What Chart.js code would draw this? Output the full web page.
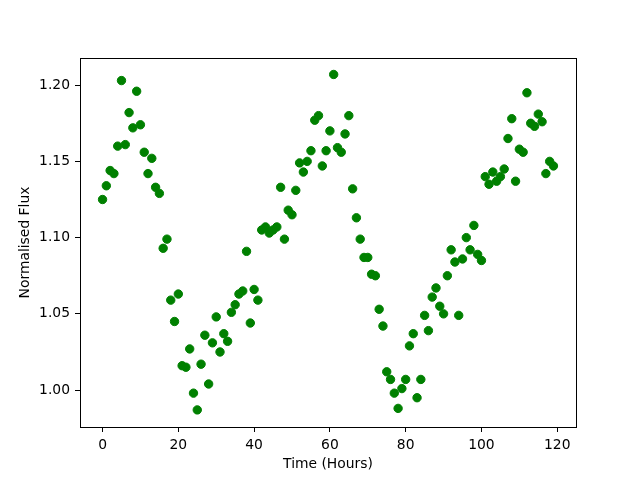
<!DOCTYPE html>
<html>
<head>
<meta charset="utf-8">
<script src="https://cdn.jsdelivr.net/npm/chart.js@4.4.0/dist/chart.umd.min.js"></script>
<style>
  html, body { margin: 0; padding: 0; background: #fff; }
  #wrap { width: 640px; height: 480px; }
</style>
</head>
<body>
<div id="wrap"><canvas id="c" width="640" height="480"></canvas></div>
<script>
const timeHours = [
  0, 1, 2, 3, 4, 5, 6, 7, 8, 9,
  10, 11, 12, 13, 14, 15, 16, 17, 18, 19,
  20, 21, 22, 23, 24, 25, 26, 27, 28, 29,
  30, 31, 32, 33, 34, 35, 36, 37, 38, 39,
  40, 41, 42, 43, 44, 45, 46, 47, 48, 49,
  50, 51, 52, 53, 54, 55, 56, 57, 58, 59,
  60, 61, 62, 63, 64, 65, 66, 67, 68, 69,
  70, 71, 72, 73, 74, 75, 76, 77, 78, 79,
  80, 81, 82, 83, 84, 85, 86, 87, 88, 89,
  90, 91, 92, 93, 94, 95, 96, 97, 98, 99,
  100, 101, 102, 103, 104, 105, 106, 107, 108, 109,
  110, 111, 112, 113, 114, 115, 116, 117, 118, 119
];
const normalisedFlux = [
  1.125, 1.134, 1.144, 1.142, 1.160, 1.203, 1.161, 1.182, 1.172, 1.196,
  1.174, 1.156, 1.142, 1.152, 1.133, 1.129, 1.093, 1.099, 1.059, 1.045,
  1.063, 1.016, 1.015, 1.027, 0.998, 0.987, 1.017, 1.036, 1.004, 1.031,
  1.048, 1.025, 1.037, 1.032, 1.051, 1.056, 1.063, 1.065, 1.091, 1.044,
  1.066, 1.059, 1.105, 1.107, 1.103, 1.105, 1.107, 1.133, 1.099, 1.118,
  1.115, 1.131, 1.149, 1.143, 1.150, 1.157, 1.177, 1.180, 1.147, 1.157,
  1.170, 1.207, 1.159, 1.156, 1.168, 1.180, 1.132, 1.113, 1.099, 1.087,
  1.087, 1.076, 1.075, 1.053, 1.042, 1.012, 1.007, 0.998, 0.988, 1.001,
  1.007, 1.029, 1.037, 0.995, 1.007, 1.049, 1.039, 1.061, 1.067, 1.055,
  1.050, 1.075, 1.092, 1.084, 1.049, 1.086, 1.100, 1.092, 1.108, 1.089,
  1.085, 1.140, 1.135, 1.143, 1.137, 1.140, 1.145, 1.165, 1.178, 1.137,
  1.158, 1.156, 1.195, 1.175, 1.173, 1.181, 1.176, 1.142, 1.150, 1.147
];
const xTickValues = [0, 20, 40, 60, 80, 100, 120];
const yTickValues = [1.00, 1.05, 1.10, 1.15, 1.20];
const xAxisLabel = 'Time (Hours)';
const yAxisLabel = 'Normalised Flux';

const points = timeHours.map((t, i) => ({ x: t, y: normalisedFlux[i] }));

const frame = {
  id: 'frame',
  afterDatasetsDraw(chart) {
    const { ctx, chartArea: a } = chart;
    ctx.save();
    ctx.strokeStyle = '#000';
    ctx.lineWidth = 1;
    ctx.strokeRect(Math.round(a.left) + 0.5, Math.round(a.top) + 0.5,
                   Math.round(a.right - a.left), Math.round(a.bottom - a.top));
    ctx.restore();
  }
};

Chart.defaults.font.family = '"DejaVu Sans", sans-serif';
Chart.defaults.font.size = 13.89;
Chart.defaults.color = '#000';

new Chart(document.getElementById('c'), {
  type: 'scatter',
  data: {
    datasets: [{
      data: points,
      backgroundColor: '#008000',
      borderColor: '#008000',
      borderWidth: 1,
      pointRadius: 4.2,
      pointHoverRadius: 4.2
    }]
  },
  options: {
    responsive: false,
    animation: false,
    events: [],
    layout: { padding: { top: 58, right: 64, left: 0, bottom: 0 } },
    plugins: { legend: { display: false }, tooltip: { enabled: false } },
    scales: {
      x: {
        type: 'linear',
        min: -5.95,
        max: 124.95,
        afterFit(s) { s.height = 53; },
        afterBuildTicks(s) { s.ticks = xTickValues.map(v => ({ value: v })); },
        grid: { display: true, drawOnChartArea: false, drawTicks: true, tickLength: 5, tickColor: '#000', tickWidth: 1 },
        border: { display: false },
        ticks: { autoSkip: false, maxRotation: 0, padding: 5, color: '#000',
                 callback: v => String(v) },
        title: { display: true, text: xAxisLabel, color: '#000', padding: { top: 0, bottom: 7 } }
      },
      y: {
        type: 'linear',
        min: 0.9758,
        max: 1.2178,
        afterFit(s) { s.width = 80; },
        afterBuildTicks(s) { s.ticks = yTickValues.map(v => ({ value: v })); },
        grid: { display: true, drawOnChartArea: false, drawTicks: true, tickLength: 5, tickColor: '#000', tickWidth: 1 },
        border: { display: false },
        ticks: { autoSkip: false, padding: 5, color: '#000',
                 callback: v => Number(v).toFixed(2) },
        title: { display: true, text: yAxisLabel, color: '#000', padding: { top: 17, bottom: 0 } }
      }
    }
  },
  plugins: [frame]
});
</script>
</body>
</html>
